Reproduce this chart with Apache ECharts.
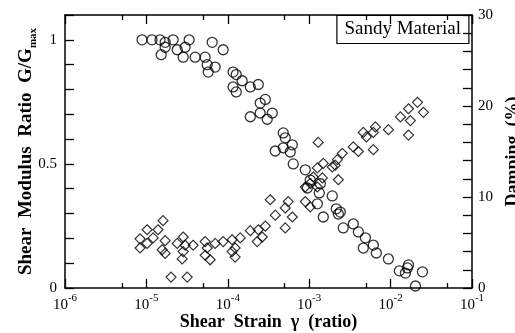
<!DOCTYPE html>
<html>
<head>
<meta charset="utf-8">
<script src="https://cdn.jsdelivr.net/npm/echarts@6/dist/echarts.min.js"></script>
<style>
  html, body { margin: 0; padding: 0; background: #fff; }
  #main { width: 515px; height: 333px; }
</style>
</head>
<body>
<div id="main"></div>
<script>
// shear strain (ratio), G/Gmax
var modulusData = [
  [8.85e-6, 1.0], [1.17e-5, 1.0], [1.47e-5, 1.0], [1.70e-5, 0.99], [2.13e-5, 1.0],
  [1.70e-5, 0.97], [1.52e-5, 0.94], [2.39e-5, 0.96], [2.99e-5, 0.97], [3.35e-5, 1.0],
  [2.83e-5, 0.93], [3.97e-5, 0.93], [6.43e-5, 0.99], [8.77e-5, 0.96], [5.27e-5, 0.93],
  [5.58e-5, 0.90], [7.0e-5, 0.89], [5.74e-5, 0.87], [1.16e-4, 0.87], [1.27e-4, 0.86],
  [1.50e-4, 0.835], [1.16e-4, 0.81], [1.27e-4, 0.79], [1.89e-4, 0.81], [2.37e-4, 0.82],
  [2.50e-4, 0.745], [2.89e-4, 0.76], [1.89e-4, 0.69], [2.50e-4, 0.705], [3.52e-4, 0.705],
  [3.05e-4, 0.68], [4.80e-4, 0.625], [5.08e-4, 0.605], [6.20e-4, 0.577], [3.83e-4, 0.552],
  [4.80e-4, 0.565], [5.85e-4, 0.548], [6.37e-4, 0.5], [8.95e-4, 0.476], [1.03e-3, 0.435],
  [9.48e-4, 0.403], [1.37e-3, 0.42], [1.33e-3, 0.383], [1.26e-3, 0.339], [1.92e-3, 0.371],
  [1.49e-3, 0.286], [2.15e-3, 0.319], [2.28e-3, 0.298], [2.41e-3, 0.306], [2.62e-3, 0.242],
  [3.48e-3, 0.258], [4.02e-3, 0.226], [4.90e-3, 0.202], [6.14e-3, 0.173], [4.62e-3, 0.161],
  [6.68e-3, 0.141], [9.40e-3, 0.117], [1.28e-2, 0.069], [1.61e-2, 0.081], [1.66e-2, 0.093],
  [1.52e-2, 0.06], [2.46e-2, 0.065], [2.02e-2, 0.008]
]

// shear strain (ratio), damping (%)
var dampingData = [
  [8.36e-6, 5.4], [8.36e-6, 4.4], [1.02e-5, 6.4], [1.02e-5, 4.9], [1.21e-5, 5.5],
  [1.39e-5, 6.4], [1.60e-5, 7.4], [1.70e-5, 5.2], [1.56e-5, 4.2], [1.70e-5, 3.8],
  [2.39e-5, 4.9], [2.83e-5, 5.6], [2.99e-5, 4.7], [2.83e-5, 4.0], [2.75e-5, 3.2],
  [3.75e-5, 4.7], [2.01e-5, 1.2], [3.17e-5, 1.2], [5.27e-5, 5.1], [5.58e-5, 4.4],
  [5.27e-5, 3.6], [6.07e-5, 3.1], [7.0e-5, 4.9], [8.77e-5, 5.1], [1.13e-4, 5.3],
  [1.13e-4, 4.0], [1.42e-4, 5.5], [1.23e-4, 4.4], [1.23e-4, 3.4], [1.89e-4, 6.3],
  [2.37e-4, 6.4], [2.30e-4, 5.1], [2.65e-4, 5.6], [2.89e-4, 6.8], [3.32e-4, 9.7],
  [3.83e-4, 8.0], [5.08e-4, 8.8], [5.53e-4, 9.5], [6.20e-4, 7.8], [5.08e-4, 6.6],
  [8.95e-4, 9.5], [1.03e-3, 8.9], [8.95e-4, 11.1], [1.03e-3, 11.5], [1.26e-3, 11.1],
  [1.12e-3, 12.2], [1.45e-3, 12.1], [1.26e-3, 13.2], [2.28e-3, 11.9], [2.09e-3, 13.5],
  [1.29e-3, 16.0], [1.49e-3, 13.7], [1.92e-3, 13.3], [2.22e-3, 14.1], [2.55e-3, 14.8],
  [3.48e-3, 15.5], [4.02e-3, 15.0], [4.62e-3, 17.1], [5.04e-3, 16.6], [6.14e-3, 17.1],
  [6.14e-3, 15.2], [6.50e-3, 17.7], [9.40e-3, 17.4], [1.32e-2, 18.8], [1.66e-2, 19.7],
  [1.75e-2, 18.4], [1.66e-2, 16.8], [2.14e-2, 20.4], [2.53e-2, 19.3]
]

var minorStrainTicks = [5e-6, 5e-5, 5e-4, 5e-3, 5e-2]
var modulusLabels = [0, 0.5, 1]
var dampingLabels = [0, 10, 20, 30]

var serif = 'Liberation Serif'
var black = '#000'

function strainAxis (position, major, show) {
  return {
    type: 'log',
    logBase: 10,
    position: position,
    min: 1e-6,
    max: 1e-1,
    axisLine: { show: show, lineStyle: { color: black, width: 1.5 } },
    axisTick: major
      ? { inside: true, length: 9, lineStyle: { color: black, width: 1.3 } }
      : { inside: true, length: 5, customValues: minorStrainTicks, lineStyle: { color: black, width: 1.3 } },
    axisLabel: { show: false },
    splitLine: { show: false },
    minorTick: { show: false }
  }
}

var bottomAxis = strainAxis('bottom', true, true)
bottomAxis.axisLabel = {
  show: true,
  margin: 5,
  color: black,
  formatter: function (v) {
    return '{b|10}{s|' + Math.round(Math.log10(v)) + '}'
  },
  rich: {
    b: { fontFamily: serif, fontSize: 15, color: black, lineHeight: 20, verticalAlign: 'bottom' },
    s: { fontFamily: serif, fontSize: 11, color: black, lineHeight: 20, verticalAlign: 'top' }
  }
}
bottomAxis.name = 'Shear  Strain  γ  (ratio)'
bottomAxis.nameLocation = 'middle'
bottomAxis.nameGap = 25
bottomAxis.nameMoveOverlap = false
bottomAxis.nameTextStyle = { fontFamily: serif, fontWeight: 'bold', fontSize: 18, color: black }

function labelOnly (list) {
  return function (v) {
    for (var i = 0; i < list.length; i++) {
      if (Math.abs(v - list[i]) < 1e-9) return String(list[i])
    }
    return ''
  }
}

var option = {
  backgroundColor: '#fff',
  animation: false,
  title: {
    text: 'Sandy Material',
    right: 46,
    top: 15,
    padding: [5, 8, 5, 8],
    borderColor: black,
    borderWidth: 1.2,
    textStyle: { fontFamily: serif, fontWeight: 'normal', fontSize: 19, color: black }
  },
  grid: { left: 65, right: 43, top: 15, bottom: 45, outerBoundsMode: 'none', containLabel: false },
  xAxis: [
    bottomAxis,
    strainAxis('bottom', false, false),
    strainAxis('top', true, true),
    strainAxis('top', false, false)
  ],
  yAxis: [
    {
      type: 'value',
      position: 'left',
      min: 0,
      max: 1.1,
      interval: 0.1,
      axisLine: { show: true, lineStyle: { color: black, width: 1.5 } },
      axisTick: { inside: true, length: 9, lineStyle: { color: black, width: 1.3 } },
      axisLabel: { margin: 8, color: black, fontFamily: serif, fontSize: 15, formatter: labelOnly(modulusLabels) },
      splitLine: { show: false },
      name: '{a|Shear  Modulus  Ratio  G/G}{m|max}',
      nameLocation: 'middle',
      nameRotate: 90,
      nameGap: 26,
      nameMoveOverlap: false,
      nameTextStyle: {
        rich: {
          a: { fontFamily: serif, fontWeight: 'bold', fontSize: 19, color: black, lineHeight: 22, verticalAlign: 'top' },
          m: { fontFamily: serif, fontWeight: 'bold', fontSize: 11, color: black, lineHeight: 22, verticalAlign: 'bottom' }
        }
      }
    },
    {
      type: 'value',
      position: 'right',
      min: 0,
      max: 30,
      interval: 2,
      axisLine: { show: true, lineStyle: { color: black, width: 1.5 } },
      axisTick: { inside: true, length: 9, lineStyle: { color: black, width: 1.3 } },
      axisLabel: { margin: 6, color: black, fontFamily: serif, fontSize: 15, formatter: labelOnly(dampingLabels) },
      splitLine: { show: false },
      name: 'Damping  (%)',
      nameLocation: 'middle',
      nameRotate: 90,
      nameGap: 29,
      nameTextStyle: { fontFamily: serif, fontWeight: 'bold', fontSize: 18, color: black }
    }
  ],
  series: [
    {
      name: 'G/Gmax',
      type: 'scatter',
      xAxisIndex: 0,
      yAxisIndex: 0,
      data: modulusData,
      symbol: 'circle',
      symbolSize: 10,
      itemStyle: { color: 'rgba(0,0,0,0)', borderColor: black, borderWidth: 1.3 }
    },
    {
      name: 'Damping',
      type: 'scatter',
      xAxisIndex: 0,
      yAxisIndex: 1,
      data: dampingData,
      symbol: 'diamond',
      symbolSize: 10,
      itemStyle: { color: 'rgba(0,0,0,0)', borderColor: black, borderWidth: 1.2 }
    }
  ]
}

var chart = echarts.init(document.getElementById('main'))
chart.setOption(option)
</script>
</body>
</html>
